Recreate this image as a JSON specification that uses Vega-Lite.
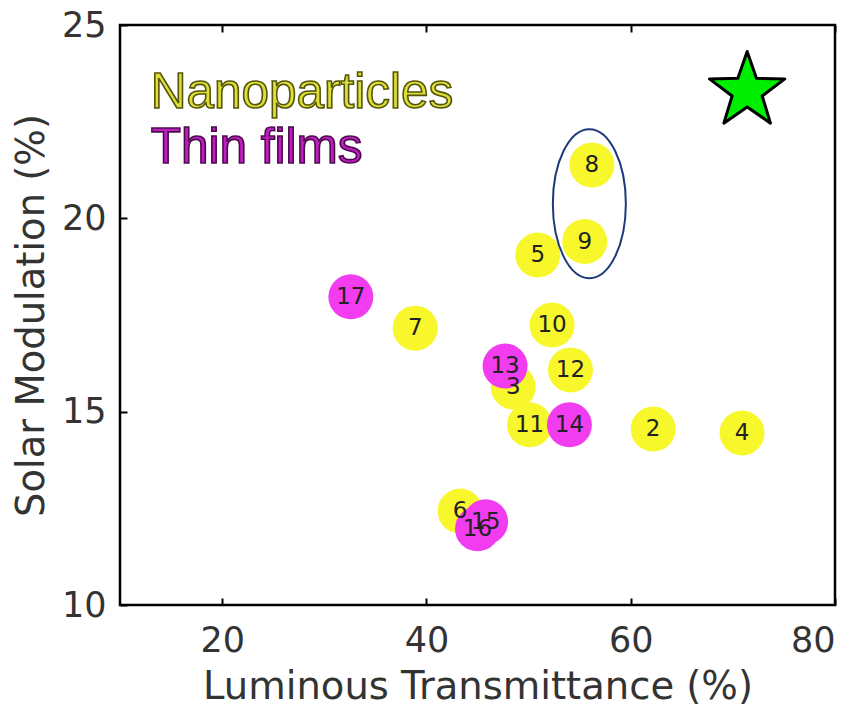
{
  "$schema": "https://vega.github.io/schema/vega-lite/v6.json",
  "width": 715,
  "height": 580,
  "autosize": {"type": "none"},
  "padding": {"left": 120, "top": 25, "right": 25, "bottom": 103},
  "background": "white",
  "config": {
    "view": {"stroke": "black", "strokeWidth": 2.5},
    "axis": {
      "domain": false,
      "tickColor": "black",
      "tickWidth": 2,
      "tickSize": 7,
      "offset": -7,
      "grid": false,
      "labelFont": "DejaVu Sans",
      "labelFontSize": 35,
      "labelColor": "#333333",
      "titleFont": "DejaVu Sans",
      "titleFontSize": 38.5,
      "titleFontWeight": "normal",
      "titleColor": "#333333"
    }
  },
  "datasets": {
    "samples": [
      {"id": "2", "lt": 62.2, "sm": 14.55, "type": "Nanoparticles"},
      {"id": "3", "lt": 48.5, "sm": 15.64, "type": "Nanoparticles"},
      {"id": "4", "lt": 70.9, "sm": 14.45, "type": "Nanoparticles"},
      {"id": "5", "lt": 50.9, "sm": 19.05, "type": "Nanoparticles"},
      {"id": "6", "lt": 43.3, "sm": 12.43, "type": "Nanoparticles"},
      {"id": "7", "lt": 38.9, "sm": 17.16, "type": "Nanoparticles"},
      {"id": "8", "lt": 56.2, "sm": 21.38, "type": "Nanoparticles"},
      {"id": "9", "lt": 55.5, "sm": 19.4, "type": "Nanoparticles"},
      {"id": "10", "lt": 52.3, "sm": 17.24, "type": "Nanoparticles"},
      {"id": "11", "lt": 50.1, "sm": 14.66, "type": "Nanoparticles"},
      {"id": "12", "lt": 54.1, "sm": 16.08, "type": "Nanoparticles"},
      {"id": "13", "lt": 47.7, "sm": 16.18, "type": "Thin films"},
      {"id": "14", "lt": 54.0, "sm": 14.66, "type": "Thin films"},
      {"id": "15", "lt": 45.8, "sm": 12.15, "type": "Thin films"},
      {"id": "16", "lt": 45.0, "sm": 11.97, "type": "Thin films"},
      {"id": "17", "lt": 32.6, "sm": 17.97, "type": "Thin films"}
    ],
    "target": [{"lt": 71.4, "sm": 23.29}],
    "highlight": [{"lt": 55.95, "sm": 20.38}],
    "key": [
      {"label": "Nanoparticles", "lt": 13.0, "sm": 22.85, "type": "Nanoparticles"},
      {"label": "Thin films", "lt": 13.0, "sm": 21.42, "type": "Thin films"}
    ]
  },
  "resolve": {"axis": {"x": "independent"}},
  "layer": [
    {
      "data": {"name": "samples"},
      "mark": {"type": "point", "shape": "circle", "filled": true, "opacity": 1, "size": 2025},
      "encoding": {
        "x": {
          "field": "lt",
          "type": "quantitative",
          "scale": {"domain": [10, 80], "nice": false, "zero": false},
          "axis": {
            "orient": "bottom",
            "title": "Luminous Transmittance (%)",
            "values": [20, 40, 60, 80],
            "labelPadding": 18,
            "titlePadding": 10
          }
        },
        "y": {
          "field": "sm",
          "type": "quantitative",
          "scale": {"domain": [10, 25], "nice": false, "zero": false},
          "axis": {
            "orient": "left",
            "title": "Solar Modulation (%)",
            "values": [10, 15, 20, 25],
            "labelPadding": 14,
            "titlePadding": 10
          }
        },
        "color": {
          "field": "type",
          "type": "nominal",
          "scale": {"domain": ["Nanoparticles", "Thin films"], "range": ["#f7f72c", "#f23cf0"]},
          "legend": null
        }
      }
    },
    {
      "data": {"name": "samples"},
      "mark": {"type": "text", "font": "DejaVu Sans", "fontSize": 23, "color": "#222222", "baseline": "middle", "align": "center"},
      "encoding": {
        "x": {
          "field": "lt",
          "type": "quantitative",
          "axis": {
            "orient": "top",
            "values": [20, 40, 60, 80],
            "labels": false,
            "title": null
          }
        },
        "y": {"field": "sm", "type": "quantitative"},
        "text": {"field": "id"}
      }
    },
    {
      "data": {"name": "highlight"},
      "mark": {
        "type": "point",
        "shape": "M0,-1 A0.49,1 0 1,1 0,1 A0.49,1 0 1,1 0,-1 Z",
        "filled": false,
        "size": 22201,
        "stroke": "#1c3a78",
        "strokeWidth": 2,
        "opacity": 1
      },
      "encoding": {
        "x": {"field": "lt", "type": "quantitative", "axis": null},
        "y": {"field": "sm", "type": "quantitative"}
      }
    },
    {
      "data": {"name": "target"},
      "mark": {
        "type": "point",
        "shape": "M0,-1 L0.235,-0.324 L0.951,-0.309 L0.380,0.124 L0.588,0.809 L0,0.4 L-0.588,0.809 L-0.380,0.124 L-0.951,-0.309 L-0.235,-0.324 Z",
        "filled": true,
        "fill": "#00ee00",
        "stroke": "black",
        "strokeWidth": 3,
        "strokeJoin": "round",
        "size": 6273,
        "opacity": 1
      },
      "encoding": {
        "x": {"field": "lt", "type": "quantitative", "axis": null},
        "y": {"field": "sm", "type": "quantitative"}
      }
    },
    {
      "data": {"name": "key"},
      "mark": {"type": "text", "font": "Liberation Sans", "fontSize": 49.5, "align": "left", "baseline": "alphabetic", "strokeWidth": 1.6},
      "encoding": {
        "x": {"field": "lt", "type": "quantitative", "axis": null},
        "y": {"field": "sm", "type": "quantitative"},
        "text": {"field": "label"},
        "fill": {
          "field": "type",
          "type": "nominal",
          "scale": {"domain": ["Nanoparticles", "Thin films"], "range": ["#dcde3a", "#bf1ec2"]},
          "legend": null
        },
        "stroke": {
          "field": "type",
          "type": "nominal",
          "scale": {"domain": ["Nanoparticles", "Thin films"], "range": ["#55550a", "#4a0a4a"]},
          "legend": null
        }
      }
    }
  ]
}
